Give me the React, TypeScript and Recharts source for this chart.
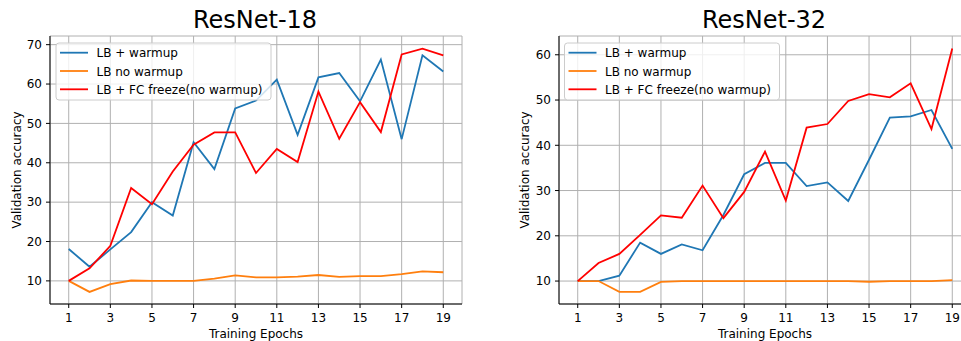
import React from 'react';
import { LineChart, Line, XAxis, YAxis, CartesianGrid } from 'recharts';

const epochs = [1, 2, 3, 4, 5, 6, 7, 8, 9, 10, 11, 12, 13, 14, 15, 16, 17, 18, 19];
const xTicks = [1, 3, 5, 7, 9, 11, 13, 15, 17, 19];

const r18Warmup = [18.1, 13.6, 18.0, 22.4, 30.0, 26.6, 45.2, 38.4, 53.8, 55.8, 61.1, 47.1, 61.7, 62.8, 55.6, 66.2, 46.0, 67.3, 63.2];
const r18NoWarmup = [10.0, 7.2, 9.2, 10.1, 10.0, 10.0, 10.0, 10.6, 11.4, 10.9, 10.9, 11.1, 11.5, 11.0, 11.2, 11.2, 11.7, 12.4, 12.2];
const r18Freeze = [10.0, 13.2, 18.9, 33.6, 29.5, 37.8, 44.6, 47.7, 47.7, 37.4, 43.5, 40.2, 58.1, 46.1, 55.4, 47.8, 67.5, 69.0, 67.3];
const r18YTicks = [10, 20, 30, 40, 50, 60, 70];

const r32Warmup = [10.0, 10.0, 11.2, 18.5, 16.0, 18.1, 16.8, 24.6, 33.6, 36.1, 36.1, 31.0, 31.8, 27.7, 36.8, 46.1, 46.4, 47.8, 39.2];
const r32NoWarmup = [10.0, 10.0, 7.6, 7.6, 9.8, 10.0, 10.0, 10.0, 10.0, 10.0, 10.0, 10.0, 10.0, 10.0, 9.85, 10.0, 10.0, 10.0, 10.2];
const r32Freeze = [10.0, 14.0, 16.0, 20.2, 24.5, 24.0, 31.1, 23.9, 29.7, 38.6, 27.8, 43.9, 44.7, 49.8, 51.3, 50.6, 53.7, 43.6, 61.4];
const r32YTicks = [10, 20, 30, 40, 50, 60];

const seriesNames = ['LB + warmup', 'LB no warmup', 'LB + FC freeze(no warmup)'];
const seriesColors = ['#1f77b4', '#ff7f0e', '#ff0000'];

const build = (a: number[], b: number[], c: number[]) =>
  epochs.map((e, i) => ({ epoch: e, s0: a[i], s1: b[i], s2: c[i] }));

const data18 = build(r18Warmup, r18NoWarmup, r18Freeze);
const data32 = build(r32Warmup, r32NoWarmup, r32Freeze);

const CW = 471;
const CH = 341;

function Panel({ data, yDomain, yTicks, left }: { data: any[]; yDomain: number[]; yTicks: number[]; left: number }) {
  return (
    <div style={{ position: 'absolute', left, top: 0, width: CW, height: CH }}>
      <LineChart width={CW} height={CH} data={data} margin={{ top: 36, right: 9, bottom: 7, left: 0 }}>
        <CartesianGrid stroke="#b0b0b0" strokeWidth={1} />
        <XAxis
          dataKey="epoch"
          type="number"
          domain={[0.1, 19.9]}
          ticks={xTicks}
          allowDataOverflow
          height={30}
          tickSize={4}
          tickMargin={5}
          tick={{ fill: '#000', fontSize: 12 }}
          tickLine={{ stroke: '#000' }}
          axisLine={{ stroke: '#000' }}
        />
        <XAxis xAxisId="top" orientation="top" type="number" domain={[0, 1]} height={0} tick={false} tickLine={false} axisLine={{ stroke: '#000' }} />
        <YAxis
          type="number"
          domain={yDomain}
          ticks={yTicks}
          allowDataOverflow
          width={50}
          tickSize={4}
          tickMargin={4}
          tick={{ fill: '#000', fontSize: 12 }}
          tickLine={{ stroke: '#000' }}
          axisLine={{ stroke: '#000' }}
        />
        <YAxis yAxisId="right" orientation="right" type="number" domain={[0, 1]} width={0} tick={false} tickLine={false} axisLine={{ stroke: '#000' }} />
        {['s0', 's1', 's2'].map((k, i) => (
          <Line key={k} type="linear" dataKey={k} stroke={seriesColors[i]} strokeWidth={1.8} dot={false} activeDot={false} isAnimationActive={false} />
        ))}
      </LineChart>
    </div>
  );
}

function Overlay() {
  const legend = (bx: number) => (
    <g>
      <rect x={bx} y={43} width={215} height={57} rx={3} fill="#fff" fillOpacity={0.8} stroke="#cccccc" strokeWidth={1} />
      {seriesNames.map((n, i) => (
        <g key={n}>
          <line x1={bx + 4} x2={bx + 32} y1={52.7 + i * 18.3} y2={52.7 + i * 18.3} stroke={seriesColors[i]} strokeWidth={1.8} />
          <text x={bx + 40.5} y={57.3 + i * 18.3} fontSize={12} fill="#000">{n}</text>
        </g>
      ))}
    </g>
  );
  return (
    <svg width={961} height={341} style={{ position: 'absolute', left: 0, top: 0, pointerEvents: 'none' }}>
      <text x={255} y={28.3} fontSize={24} textAnchor="middle" fill="#000">ResNet-18</text>
      <text x={764} y={28.3} fontSize={24} textAnchor="middle" fill="#000">ResNet-32</text>
      <text x={256} y={338} fontSize={12} textAnchor="middle" fill="#000">Training Epochs</text>
      <text x={765} y={338} fontSize={12} textAnchor="middle" fill="#000">Training Epochs</text>
      <text x={20.5} y={170} fontSize={12} textAnchor="middle" fill="#000" transform="rotate(-90 20.5 170)">Validation accuracy</text>
      <text x={529} y={170} fontSize={12} textAnchor="middle" fill="#000" transform="rotate(-90 529 170)">Validation accuracy</text>
      {legend(56)}
      {legend(564.5)}
    </svg>
  );
}

export default function App() {
  return (
    <div style={{ position: 'absolute', left: 0, top: 0, width: 961, height: 341, overflow: 'hidden', background: '#fff', fontFamily: '"DejaVu Sans", sans-serif' }}>
      <Panel data={data18} yDomain={[4.13, 72.2]} yTicks={r18YTicks} left={0} />
      <Panel data={data32} yDomain={[4.93, 64.15]} yTicks={r32YTicks} left={509} />
      <Overlay />
    </div>
  );
}
